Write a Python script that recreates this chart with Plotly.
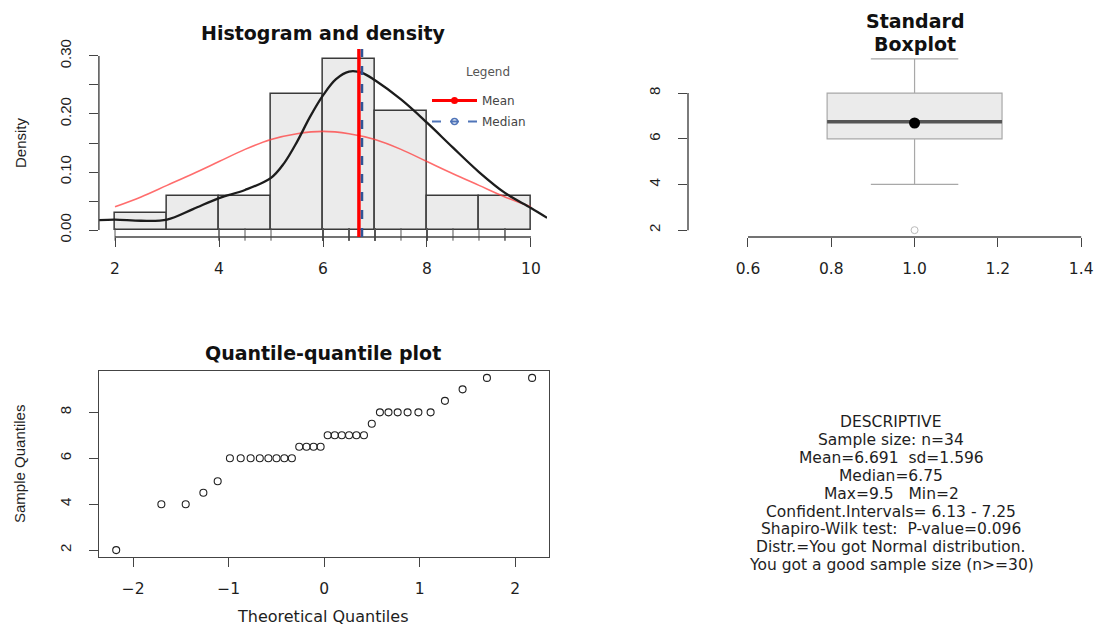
import plotly.graph_objects as go

# ---------------- data ----------------
sample_values = [2, 4, 4, 4.5, 5,
                 6, 6, 6, 6, 6, 6, 6, 6,
                 6.5, 6.5, 6.5, 6.5,
                 7, 7, 7, 7, 7, 7,
                 7.5,
                 8, 8, 8, 8, 8, 8,
                 8.5, 9, 9.5, 9.5]
theoretical_quantiles = [-2.178, -1.705, -1.450, -1.265, -1.115, -0.987, -0.874, -0.770,
                         -0.674, -0.584, -0.499, -0.417, -0.338, -0.261, -0.185, -0.111,
                         -0.037, 0.037, 0.111, 0.185, 0.261, 0.338, 0.417, 0.499,
                         0.584, 0.674, 0.770, 0.874, 0.987, 1.115, 1.265, 1.450,
                         1.705, 2.178]
hist_bin_mids = [2.5, 3.5, 4.5, 5.5, 6.5, 7.5, 8.5, 9.5]
hist_density = [0.0294, 0.0588, 0.0588, 0.2353, 0.2941, 0.2059, 0.0588, 0.0588]

kde_x = [1.69, 2, 2.5, 3, 3.5, 4, 4.5, 5, 5.25, 5.5, 5.75, 6, 6.25, 6.5, 6.75,
         7, 7.5, 8, 8.5, 9, 9.5, 10, 10.31]
kde_y = [0.017, 0.018, 0.016, 0.018, 0.036, 0.055, 0.069, 0.090, 0.115, 0.152, 0.195,
         0.232, 0.260, 0.273, 0.271, 0.258, 0.225, 0.185, 0.142, 0.100, 0.064, 0.038, 0.021]

normal_x = [2, 2.5, 3, 3.5, 4, 4.5, 5, 5.5, 6, 6.5, 7, 7.5, 8, 8.5, 9, 9.5, 10]
normal_y = [0.040, 0.057, 0.077, 0.097, 0.118, 0.139, 0.156, 0.166, 0.170, 0.166,
            0.156, 0.139, 0.118, 0.097, 0.077, 0.057, 0.040]

mean_value = 6.691
median_value = 6.75

hist_xticks = [2, 4, 6, 8, 10]
hist_yticks = [0, 0.05, 0.10, 0.15, 0.20, 0.25, 0.30]
hist_yticklabels = ["0.00", "", "0.10", "", "0.20", "", "0.30"]
box_xticks = [0.6, 0.8, 1.0, 1.2, 1.4]
box_xticklabels = ["0.6", "0.8", "1.0", "1.2", "1.4"]
box_yticks = [2, 4, 6, 8]
qq_xticks = [-2, -1, 0, 1, 2]
qq_yticks = [2, 4, 6, 8]

descriptive_lines = [
    "DESCRIPTIVE",
    "Sample size: n=34",
    "Mean=6.691\u00a0\u00a0sd=1.596",
    "Median=6.75",
    "Max=9.5\u00a0\u00a0\u00a0Min=2",
    "Confident.Intervals= 6.13 - 7.25",
    "Shapiro-Wilk test:\u00a0\u00a0P-value=0.096",
    "Distr.=You got Normal distribution.",
    "You got a good sample size (n>=30)",
]

# ---------------- layout helpers ----------------
W, H = 1097, 628
HFONT = "DejaVu Sans, Liberation Sans, Arial, sans-serif"      # horizontal text
VFONT = "Liberation Sans, Arial, Helvetica, sans-serif"       # rotated text
AX = "#444444"
TXT = "#1e1e1e"


def fx(p):
    return p / W


def fy(p):
    return 1 - p / H


fig = go.Figure()

# ---------------- histogram panel ----------------
fig.add_trace(go.Bar(x=hist_bin_mids, y=hist_density, width=1,
                     marker=dict(color="#EBEBEB", line=dict(color="#3a3a3a", width=1.5)),
                     xaxis="x", yaxis="y", showlegend=False, hoverinfo="skip"))
fig.add_trace(go.Scatter(x=sample_values, y=[-0.0075] * len(sample_values), mode="markers",
                         marker=dict(symbol="line-ns", size=9, line=dict(color="#555", width=1)),
                         xaxis="x", yaxis="y", showlegend=False, hoverinfo="skip", cliponaxis=False))
fig.add_trace(go.Scatter(x=normal_x, y=normal_y, mode="lines",
                         line=dict(color="rgba(255,60,60,0.75)", width=1.6, shape="spline"),
                         xaxis="x", yaxis="y", showlegend=False, hoverinfo="skip"))
fig.add_trace(go.Scatter(x=kde_x, y=kde_y, mode="lines", line=dict(color="#1c1c1c", width=2.3, shape="spline"),
                         xaxis="x", yaxis="y", showlegend=False, hoverinfo="skip"))

# legend entries
fig.add_trace(go.Scatter(x=[None], y=[None], mode="lines+markers", name="Mean", legendgroup="a",
                         line=dict(color="#FF0000", width=3), marker=dict(color="#FF0000", size=7),
                         xaxis="x", yaxis="y"))
fig.add_trace(go.Scatter(x=[None], y=[None], mode="lines+markers", name="Median", legendgroup="b",
                         line=dict(color="#4F74B8", width=2, dash="dash"),
                         marker=dict(color="#4F74B8", size=6, symbol="circle-open", line=dict(width=1.5)),
                         xaxis="x", yaxis="y"))

# ---------------- boxplot panel ----------------
fig.add_trace(go.Box(y=sample_values, x0=1, width=0.42, whiskerwidth=0.5,
                     fillcolor="#EBEBEB", line=dict(color="#A8A8A8", width=1.2),
                     boxpoints="outliers",
                     marker=dict(symbol="circle-open", color="#BBBBBB", size=7),
                     xaxis="x2", yaxis="y2", showlegend=False, hoverinfo="skip"))
fig.add_trace(go.Scatter(x=[0.79, 1.21], y=[median_value, median_value], mode="lines",
                         line=dict(color="#555555", width=3.5),
                         xaxis="x2", yaxis="y2", showlegend=False, hoverinfo="skip"))
fig.add_trace(go.Scatter(x=[1], y=[mean_value], mode="markers",
                         marker=dict(color="black", size=11),
                         xaxis="x2", yaxis="y2", showlegend=False, hoverinfo="skip"))

# ---------------- QQ panel ----------------
fig.add_trace(go.Scatter(x=theoretical_quantiles, y=sample_values, mode="markers",
                         marker=dict(symbol="circle-open", color="#222", size=7, line=dict(width=1.1)),
                         xaxis="x3", yaxis="y3", showlegend=False, hoverinfo="skip"))

xtickfont = dict(family=HFONT, size=15.5, color=TXT)
ytickfont = dict(family=VFONT, size=15, color=TXT)
common = dict(showgrid=False, zeroline=False, ticks="outside", ticklen=9, tickwidth=1.3,
              tickcolor=AX, automargin=False)

fig.update_layout(
    width=W, height=H, margin=dict(l=0, r=0, t=0, b=0, autoexpand=False),
    plot_bgcolor="white", paper_bgcolor="white",
    font=dict(family=HFONT, color=TXT),
    bargap=0,
    xaxis=dict(domain=[fx(98.9), fx(547.1)], range=[1.69, 10.31], tickvals=hist_xticks,
               showline=False, anchor="y", ticklabelstandoff=8, tickfont=xtickfont, **common),
    yaxis=dict(domain=[fy(237), fy(49)], range=[-0.012, 0.312], tickvals=hist_yticks,
               ticktext=hist_yticklabels, tickangle=-90, showline=False, anchor="x",
               ticklabelstandoff=12, tickfont=ytickfont, **common),
    xaxis2=dict(domain=[fx(688), 1.0], range=[0.456, 1.438], tickvals=box_xticks,
                ticktext=box_xticklabels, showline=False, anchor="y2", ticklabelstandoff=8,
                tickfont=xtickfont, **common),
    yaxis2=dict(domain=[fy(237), fy(52)], range=[1.7, 9.8], tickvals=box_yticks,
                tickangle=-90, showline=False, anchor="x2", ticklabelstandoff=12,
                tickfont=ytickfont, **common),
    xaxis3=dict(domain=[fx(99.3), fx(549)], range=[-2.355, 2.355], tickvals=qq_xticks,
                showline=True, mirror=True, linecolor=AX, linewidth=1.3, anchor="y3",
                ticklabelstandoff=8, tickfont=xtickfont, **common),
    yaxis3=dict(domain=[fy(557), fy(371)], range=[1.7, 9.8], tickvals=qq_yticks,
                tickangle=-90, showline=True, mirror=True, linecolor=AX, linewidth=1.3,
                anchor="x3", ticklabelstandoff=12, tickfont=ytickfont, **common),
    legend=dict(x=fx(427), y=fy(86), xanchor="left", yanchor="top",
                bgcolor="rgba(0,0,0,0)", font=dict(size=12, color="#444", family=HFONT),
                itemwidth=45, tracegroupgap=2),
)

# R-style axis lines (only between first and last tick)
line_style = dict(color=AX, width=1.4)
shapes = [
    dict(type="line", xref="x", yref="y domain", x0=hist_xticks[0], x1=hist_xticks[-1], y0=0, y1=0, line=line_style),
    dict(type="line", xref="x domain", yref="y", x0=0, x1=0, y0=hist_yticks[0], y1=hist_yticks[-1], line=line_style),
    dict(type="line", xref="x2", yref="y2 domain", x0=box_xticks[0], x1=box_xticks[-1], y0=0, y1=0, line=line_style),
    dict(type="line", xref="x2 domain", yref="y2", x0=0, x1=0, y0=box_yticks[0], y1=box_yticks[-1], line=line_style),
    # mean and median verticals on the histogram
    dict(type="line", xref="x", yref="y domain", x0=mean_value, x1=mean_value, y0=0, y1=1,
         line=dict(color="#FF0000", width=3.5)),
    dict(type="line", xref="x", yref="y domain", x0=median_value, x1=median_value, y0=0, y1=1,
         line=dict(color="#2F5597", width=2.5, dash="dash")),
]
fig.update_layout(shapes=shapes)

ann = []
title_font = dict(family=HFONT, size=19, color="#111")
ann.append(dict(text="<b>Histogram and density</b>", x=fx(323), y=fy(33), xref="paper", yref="paper",
                showarrow=False, font=title_font, xanchor="center", yanchor="middle"))
ann.append(dict(text="<b>Standard</b>", x=fx(915), y=fy(21), xref="paper", yref="paper",
                showarrow=False, font=title_font, xanchor="center", yanchor="middle"))
ann.append(dict(text="<b>Boxplot</b>", x=fx(915), y=fy(44), xref="paper", yref="paper",
                showarrow=False, font=title_font, xanchor="center", yanchor="middle"))
ann.append(dict(text="<b>Quantile-quantile plot</b>", x=fx(323), y=fy(353), xref="paper", yref="paper",
                showarrow=False, font=title_font, xanchor="center", yanchor="middle"))
ann.append(dict(text="Legend", x=fx(488), y=fy(72), xref="paper", yref="paper",
                showarrow=False, font=dict(family=HFONT, size=12, color="#555"),
                xanchor="center", yanchor="middle"))
label_font = dict(family=VFONT, size=15, color=TXT)
ann.append(dict(text="Density", x=fx(20), y=fy(143), xref="paper", yref="paper", textangle=-90,
                showarrow=False, font=label_font, xanchor="center", yanchor="middle"))
ann.append(dict(text="Sample Quantiles", x=fx(20), y=fy(464), xref="paper", yref="paper", textangle=-90,
                showarrow=False, font=label_font, xanchor="center", yanchor="middle"))
ann.append(dict(text="Theoretical Quantiles", x=fx(323), y=fy(616), xref="paper", yref="paper",
                showarrow=False, font=dict(family=HFONT, size=16, color=TXT), xanchor="center", yanchor="middle"))
for i, line in enumerate(descriptive_lines):
    ann.append(dict(text=line, x=fx(891), y=fy(422 + i * 17.9), xref="paper", yref="paper",
                    showarrow=False, font=dict(family=HFONT, size=15.5, color=TXT),
                    xanchor="center", yanchor="middle"))
fig.update_layout(annotations=ann)

fig.write_html("out.html", config={"displayModeBar": False},
               post_script="document.body.style.margin='0';document.body.style.overflow='hidden';")
